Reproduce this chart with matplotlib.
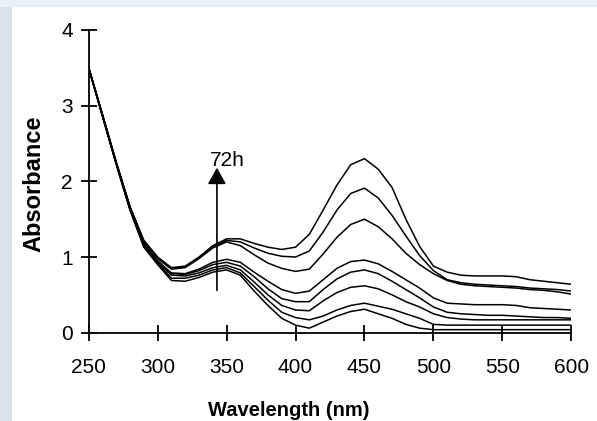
import matplotlib
matplotlib.use("Agg")
import matplotlib.pyplot as plt
from matplotlib.patches import Rectangle

plt.rcParams['font.family'] = ['Liberation Sans', 'DejaVu Sans']

wavelength = [250, 260, 270, 280, 290, 300, 310, 320, 330, 340, 350, 360, 370, 380, 390,
              400, 410, 420, 430, 440, 450, 460, 470, 480, 490, 500, 510, 520, 530, 540,
              550, 560, 570, 580, 590, 600]

abs_1 = [3.50, 2.88, 2.25, 1.66, 1.22, 1.00, 0.86, 0.88, 1.00, 1.15, 1.24, 1.24, 1.18, 1.13, 1.10,
         1.13, 1.30, 1.62, 1.95, 2.22, 2.30, 2.16, 1.92, 1.50, 1.14, 0.88, 0.80, 0.76, 0.75, 0.75,
         0.75, 0.74, 0.70, 0.68, 0.66, 0.64]
abs_2 = [3.50, 2.88, 2.25, 1.66, 1.21, 0.99, 0.85, 0.87, 0.99, 1.13, 1.22, 1.20, 1.12, 1.05, 1.01,
         1.00, 1.08, 1.33, 1.62, 1.84, 1.91, 1.78, 1.55, 1.28, 1.02, 0.82, 0.70, 0.66, 0.64, 0.63,
         0.62, 0.61, 0.59, 0.58, 0.57, 0.55]
abs_3 = [3.50, 2.88, 2.25, 1.66, 1.20, 0.98, 0.84, 0.86, 0.98, 1.12, 1.20, 1.15, 1.03, 0.92, 0.85,
         0.81, 0.84, 1.04, 1.26, 1.43, 1.50, 1.40, 1.24, 1.05, 0.90, 0.78, 0.69, 0.64, 0.62, 0.61,
         0.60, 0.59, 0.57, 0.56, 0.54, 0.51]
abs_4 = [3.50, 2.87, 2.24, 1.64, 1.17, 0.95, 0.79, 0.78, 0.84, 0.93, 0.97, 0.93, 0.80, 0.68, 0.57,
         0.52, 0.55, 0.70, 0.85, 0.94, 0.96, 0.91, 0.81, 0.70, 0.59, 0.46, 0.39, 0.38, 0.37, 0.37,
         0.37, 0.36, 0.33, 0.32, 0.31, 0.30]
abs_5 = [3.50, 2.87, 2.24, 1.64, 1.16, 0.94, 0.78, 0.77, 0.82, 0.90, 0.93, 0.88, 0.74, 0.58, 0.45,
         0.41, 0.41, 0.57, 0.71, 0.80, 0.83, 0.78, 0.68, 0.57, 0.46, 0.34, 0.27, 0.25, 0.24, 0.23,
         0.23, 0.22, 0.21, 0.20, 0.20, 0.19]
abs_6 = [3.50, 2.86, 2.23, 1.63, 1.15, 0.93, 0.76, 0.75, 0.79, 0.86, 0.89, 0.83, 0.67, 0.50, 0.36,
         0.30, 0.29, 0.42, 0.53, 0.60, 0.62, 0.58, 0.50, 0.41, 0.34, 0.25, 0.20, 0.18, 0.17, 0.17,
         0.17, 0.17, 0.17, 0.17, 0.17, 0.17]
abs_7 = [3.50, 2.86, 2.23, 1.62, 1.14, 0.92, 0.72, 0.72, 0.76, 0.83, 0.86, 0.79, 0.61, 0.43, 0.27,
         0.20, 0.17, 0.22, 0.30, 0.36, 0.39, 0.35, 0.31, 0.25, 0.19, 0.11, 0.10, 0.10, 0.10, 0.10,
         0.10, 0.10, 0.10, 0.10, 0.10, 0.10]
abs_8 = [3.50, 2.86, 2.22, 1.62, 1.13, 0.90, 0.69, 0.68, 0.73, 0.80, 0.83, 0.76, 0.55, 0.36, 0.19,
         0.10, 0.06, 0.14, 0.22, 0.28, 0.31, 0.25, 0.19, 0.11, 0.06, 0.04, 0.04, 0.04, 0.04, 0.04,
         0.04, 0.04, 0.04, 0.04, 0.04, 0.04]

series = [abs_1, abs_2, abs_3, abs_4, abs_5, abs_6, abs_7, abs_8]

x_ticks = [250, 300, 350, 400, 450, 500, 550, 600]
y_ticks = [0, 1, 2, 3, 4]
arrow_x = 343
arrow_from = 0.56
arrow_to = 2.18
arrow_label = "72h"

W, H = 597, 421
fig = plt.figure(figsize=(W / 100, H / 100), dpi=100)
fig.patch.set_facecolor('white')
# light background strips from the source page
fig.patches.append(Rectangle((0, 0), 12 / W, 1, transform=fig.transFigure,
                             facecolor='#d9e3ea', edgecolor='none', zorder=0))
fig.patches.append(Rectangle((0, 1 - 7 / H), 1, 7 / H, transform=fig.transFigure,
                             facecolor='#e8f1f7', edgecolor='none', zorder=0))

ax = fig.add_axes([88.7 / W, 1 - 332.7 / H, (571.3 - 88.7) / W, (332.7 - 30) / H])
for ys in series:
    ax.plot(wavelength, ys, color='black', lw=1.1, solid_joinstyle='round')

ax.set_xlim(250, 600)
ax.set_ylim(0, 4)
ax.set_xticks(x_ticks)
ax.set_yticks(y_ticks)
ax.tick_params(direction='inout', length=11, width=1.3, labelsize=15)
ax.tick_params(axis='x', pad=13)
ax.tick_params(axis='y', pad=6)
for s in ['top', 'right']:
    ax.spines[s].set_visible(False)
for s in ['left', 'bottom']:
    ax.spines[s].set_linewidth(1.3)
ax.set_facecolor('none')

fig.text(289 / W, 1 - 411 / H, 'Wavelength (nm)', fontsize=14.5, fontweight='bold',
         ha='center', va='center')
fig.text(34 / W, 1 - 184 / H, 'Absorbance', fontsize=17, fontweight='bold',
         ha='center', va='center', rotation=90)

ax.annotate('', xy=(arrow_x, arrow_to), xytext=(arrow_x, arrow_from),
            arrowprops=dict(arrowstyle='-|>,head_length=0.5,head_width=0.28',
                            mutation_scale=20, color='black', lw=1.2,
                            shrinkA=0, shrinkB=0))
ax.text(arrow_x - 5, 2.2, arrow_label, fontsize=15, ha='left', va='baseline')

fig.savefig('out.png', dpi=100)
